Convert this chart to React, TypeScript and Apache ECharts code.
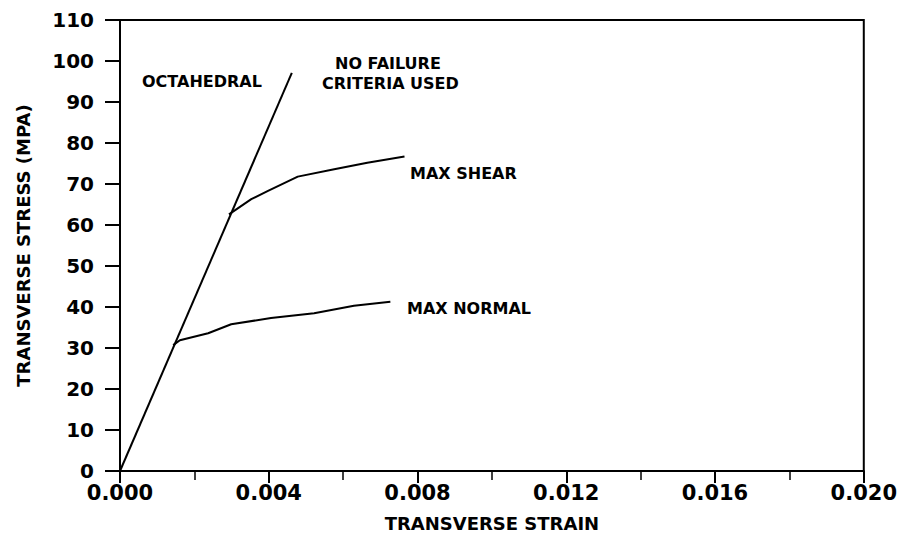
import React, { useEffect, useRef } from "react";
import * as echarts from "echarts";

const octStrain = [0, 0.00462];
const octStress = [0, 97.1];

const shearStrain = [0.00293, 0.00353, 0.00398, 0.00478, 0.00576, 0.00665, 0.00765];
const shearStress = [62.6, 66.3, 68.3, 71.8, 73.6, 75.2, 76.7];

const normalStrain = [0.00143, 0.00161, 0.00237, 0.00299, 0.00406, 0.00522, 0.00629, 0.00727];
const normalStress = [30.7, 31.9, 33.6, 35.8, 37.3, 38.5, 40.3, 41.3];

const xTicks = [0, 0.004, 0.008, 0.012, 0.016, 0.02];
const yTicks = [0, 10, 20, 30, 40, 50, 60, 70, 80, 90, 100, 110];

const annotations = ["OCTAHEDRAL", "NO FAILURE", "CRITERIA USED", "MAX SHEAR", "MAX NORMAL"];

const pair = (xs: number[], ys: number[]) => xs.map((x, i) => [x, ys[i]]);

const FONT = "DejaVu Sans";

export default function App() {
  const ref = useRef<HTMLDivElement>(null);
  useEffect(() => {
    if (!ref.current) return;
    const chart = echarts.init(ref.current, null, { renderer: "svg" });
    const lineStyle = { color: "#000", width: 2 };
    const textStyle = { fill: "#000", font: `bold 16px "${FONT}"` };
    chart.setOption({
      animation: false,
      backgroundColor: "#fff",
      grid: {
        left: 120,
        top: 20,
        right: 33,
        bottom: 77,
        show: true,
        borderColor: "#000",
        borderWidth: 2,
      },
      xAxis: {
        type: "value",
        min: xTicks[0],
        max: xTicks[xTicks.length - 1],
        interval: 0.004,
        name: "TRANSVERSE STRAIN",
        nameLocation: "middle",
        nameGap: 43,
        nameTextStyle: { fontFamily: FONT, fontSize: 18, fontWeight: "bold", color: "#000" },
        axisLine: { lineStyle: { color: "#000", width: 2 } },
        axisTick: { show: true, inside: false, length: 12, lineStyle: { color: "#000", width: 2 } },
        minorTick: { show: true, splitNumber: 2, length: 9, lineStyle: { color: "#000", width: 1.5 } },
        splitLine: { show: false },
        axisLabel: {
          margin: 11,
          fontFamily: FONT,
          fontSize: 21,
          fontWeight: "bold",
          color: "#000",
          formatter: (v: number) => v.toFixed(3),
        },
      },
      yAxis: {
        type: "value",
        min: yTicks[0],
        max: yTicks[yTicks.length - 1],
        interval: 10,
        name: "TRANSVERSE STRESS (MPA)",
        nameLocation: "middle",
        nameGap: 88,
        nameTextStyle: { fontFamily: FONT, fontSize: 18, color: "#000", fontWeight: "bold" },
        axisLine: { lineStyle: { color: "#000", width: 2 } },
        axisTick: { show: true, inside: false, length: 15, lineStyle: { color: "#000", width: 2 } },
        splitLine: { show: false },
        axisLabel: { margin: 26, fontFamily: FONT, fontSize: 20, fontWeight: "bold", color: "#000" },
      },
      series: [
        {
          type: "line",
          data: pair(octStrain, octStress),
          symbol: "none",
          lineStyle,
          silent: true,
        },
        {
          type: "line",
          data: pair(shearStrain, shearStress),
          symbol: "none",
          lineStyle,
          silent: true,
        },
        {
          type: "line",
          data: pair(normalStrain, normalStress),
          symbol: "none",
          lineStyle,
          silent: true,
        },
      ],
      graphic: [
        { type: "text", left: 142, top: 73, style: { ...textStyle, text: annotations[0] } },
        { type: "text", left: 335, top: 55, style: { ...textStyle, text: annotations[1] } },
        { type: "text", left: 322, top: 75, style: { ...textStyle, text: annotations[2] } },
        { type: "text", left: 410, top: 165, style: { ...textStyle, text: annotations[3] } },
        { type: "text", left: 407, top: 300, style: { ...textStyle, text: annotations[4] } },
      ],
    });
    return () => chart.dispose();
  }, []);
  return (
    <div
      ref={ref}
      style={{ position: "fixed", left: 0, top: 0, width: 900, height: 548, background: "#fff" }}
    />
  );
}
